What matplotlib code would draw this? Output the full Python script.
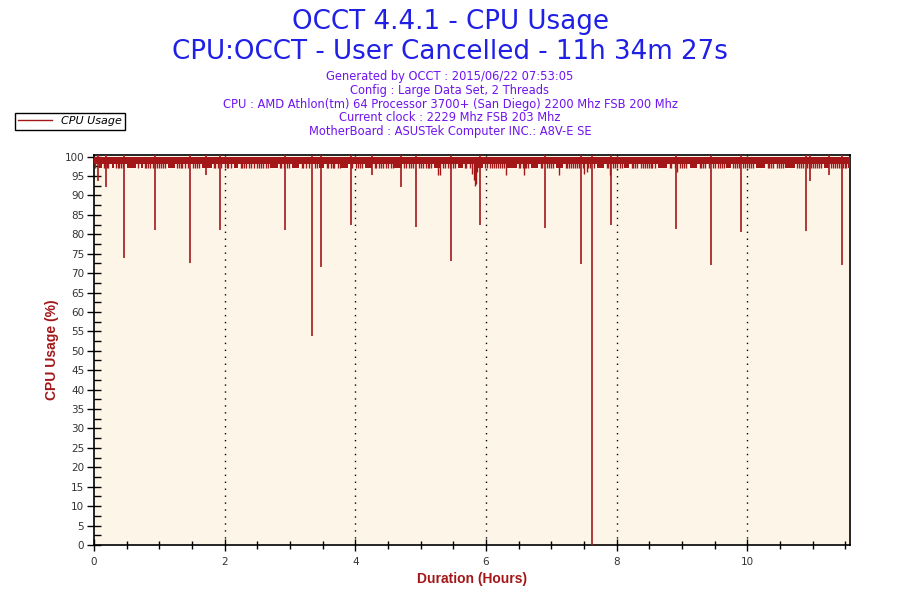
import matplotlib
matplotlib.use("Agg")
import matplotlib.pyplot as plt
from matplotlib.lines import Line2D
from matplotlib.ticker import MultipleLocator

# ---------------- data ----------------
title_lines = ["OCCT 4.4.1 - CPU Usage", "CPU:OCCT - User Cancelled - 11h 34m 27s"]
info_lines = [
    "Generated by OCCT : 2015/06/22 07:53:05",
    "Config : Large Data Set, 2 Threads",
    "CPU : AMD Athlon(tm) 64 Processor 3700+ (San Diego) 2200 Mhz FSB 200 Mhz",
    "Current clock : 2229 Mhz FSB 203 Mhz",
    "MotherBoard : ASUSTek Computer INC.: A8V-E SE",
]
series_name = "CPU Usage"
x_label = "Duration (Hours)"
y_label = "CPU Usage (%)"
x_ticks = [0, 2, 4, 6, 8, 10]
y_ticks = list(range(0, 101, 5))

duration_hours = 11.574          # 11h 34m 27s
cancel_hour = 7.63               # momentary drop to 0
band_high = 100.0                # usual fluctuation range of usage
band_low = 98.0

# deep single-sample drops (hour, usage %)
spike_hours = [0.054, 0.183, 0.459, 0.933, 1.468, 1.713, 1.927, 2.920, 3.333,
               3.471, 3.930, 4.251, 4.694, 4.924, 5.459, 5.917, 6.911, 7.462,
               7.630, 7.920, 8.914, 9.450, 9.908, 10.902, 10.963, 11.254, 11.453]
spike_values = [93.6, 92.1, 73.8, 81.2, 72.5, 95.2, 81.2, 81.2, 53.7,
                71.5, 82.4, 95.2, 92.1, 81.8, 73.1, 82.3, 81.6, 72.3,
                0.0, 82.3, 81.3, 72.0, 80.5, 80.8, 93.6, 95.2, 72.0]

# moderate drops
mid_hours = [5.27, 5.30, 5.79, 5.81, 5.83, 5.85, 5.87, 6.30, 6.59, 7.12, 7.50, 7.54, 7.90, 8.92]
mid_values = [95.3, 95.3, 95.5, 94.0, 92.4, 93.0, 96.0, 95.2, 95.2, 95.2, 95.6, 96.0, 95.2, 96.0]

# sustained shallow dips (start hour, end hour) down to ~97 %
dip_block_start = [0.08, 0.27, 0.51, 0.72, 1.13, 1.65, 2.14, 2.70, 3.03, 3.44, 3.78, 4.15,
                   4.60, 5.20, 5.57, 5.83, 6.32, 6.69, 7.07, 7.70, 8.11, 8.63, 9.12, 9.68,
                   10.13, 10.58, 11.17, 11.55]
dip_block_end = [0.13, 0.31, 0.64, 0.75, 1.24, 1.80, 2.21, 2.81, 3.14, 3.52, 3.89, 4.26,
                 4.71, 5.31, 5.65, 5.95, 6.47, 6.80, 7.18, 7.81, 8.19, 8.78, 9.23, 9.75,
                 10.28, 10.73, 11.25, 11.57]
dip_block_value = 97.0

# isolated shallow dips (hour) down to ~97 %
dip_hours = [0.02, 0.15, 0.17, 0.20, 0.22, 0.34, 0.36, 0.39, 0.41, 0.45, 0.68, 0.78,
             0.80, 0.83, 0.86, 0.90, 0.94, 0.97, 1.00, 1.02, 1.06, 1.09, 1.27, 1.30,
             1.33, 1.35, 1.40, 1.44, 1.52, 1.55, 1.57, 1.61, 1.83, 1.86, 1.90, 1.95,
             2.00, 2.03, 2.05, 2.09, 2.25, 2.27, 2.30, 2.33, 2.38, 2.41, 2.45, 2.49,
             2.52, 2.55, 2.58, 2.63, 2.66, 2.85, 2.87, 2.91, 2.95, 2.99, 3.18, 3.20,
             3.25, 3.29, 3.38, 3.41, 3.56, 3.58, 3.63, 3.66, 3.68, 3.73, 3.76, 3.93,
             3.95, 4.01, 4.04, 4.07, 4.11, 4.30, 4.32, 4.37, 4.40, 4.43, 4.47, 4.50,
             4.55, 4.58, 4.75, 4.77, 4.83, 4.86, 4.88, 4.97, 5.00, 5.03, 5.08, 5.11,
             5.13, 5.16, 5.35, 5.37, 5.42, 5.45, 5.50, 5.53, 5.68, 5.70, 5.75, 5.99,
             6.01, 6.06, 6.09, 6.12, 6.15, 6.18, 6.21, 6.24, 6.27, 6.50, 6.52, 6.57,
             6.60, 6.62, 6.65, 6.84, 6.86, 6.94, 6.97, 6.99, 7.03, 7.22, 7.24, 7.27,
             7.30, 7.33, 7.36, 7.39, 7.42, 7.48, 7.57, 7.60, 7.66, 7.85, 7.87, 7.95,
             7.98, 8.00, 8.05, 8.08, 8.23, 8.25, 8.28, 8.31, 8.37, 8.40, 8.43, 8.46,
             8.49, 8.52, 8.55, 8.59, 8.82, 8.84, 8.90, 8.97, 9.00, 9.03, 9.07, 9.28,
             9.30, 9.33, 9.36, 9.42, 9.48, 9.51, 9.55, 9.58, 9.61, 9.64, 9.79, 9.81,
             9.84, 9.87, 9.93, 9.96, 10.00, 10.03, 10.06, 10.09, 10.32, 10.34, 10.37,
             10.40, 10.46, 10.49, 10.52, 10.55, 10.77, 10.79, 10.82, 10.85, 10.91,
             10.95, 10.98, 11.01, 11.04, 11.07, 11.10, 11.13, 11.29, 11.31, 11.34,
             11.37, 11.40, 11.43, 11.46, 11.49, 11.52]

# ---------------- style ----------------
line_color = "#A31719"
bg_color = "#FDF6E8"
title_color = "#1F1FE6"
info_color = "#6F14EE"

fig = plt.figure(figsize=(9, 6), dpi=100)
fig.patch.set_facecolor("white")
ax = fig.add_axes([94 / 900, 55 / 600, 756 / 900, 390 / 600])
ax.set_facecolor(bg_color)

# band of fluctuation
ax.fill_between([0, cancel_hour], band_low, band_high, color=line_color, lw=0, zorder=3)
ax.fill_between([cancel_hour, duration_hours], band_low, band_high, color=line_color, lw=0, zorder=3)

# shallow dip blocks
for s, e in zip(dip_block_start, dip_block_end):
    ax.fill_between([s, e], dip_block_value, band_low + 0.1, color=line_color, lw=0, zorder=3)

ax.vlines(dip_hours, dip_block_value, band_high, color=line_color, lw=1.0, zorder=3)
ax.vlines(mid_hours, mid_values, band_high, color=line_color, lw=1.0, zorder=3)
ax.vlines(spike_hours, spike_values, band_high + 0.4, color=line_color, lw=1.2, zorder=3)

ax.set_xlim(0, duration_hours)
ax.set_ylim(0, 100.4)

ax.set_xticks(x_ticks)
ax.xaxis.set_minor_locator(MultipleLocator(0.5))
ax.set_yticks(y_ticks)
ax.yaxis.set_minor_locator(MultipleLocator(2.5))
ax.tick_params(axis="x", which="major", direction="inout", length=9, width=1,
               labelsize=7.5, labelcolor="#333333", pad=4)
ax.tick_params(axis="x", which="minor", direction="inout", length=6, width=1)
ax.tick_params(axis="y", which="major", direction="inout", length=10, width=1,
               labelsize=7.5, labelcolor="#333333", pad=2)
ax.tick_params(axis="y", which="minor", direction="in", length=5, width=1)

for xv in x_ticks[1:]:
    ax.axvline(xv, color="black", lw=1.0, ls=(0, (1, 4)), zorder=2)

for sp in ax.spines.values():
    sp.set_color("black")
    sp.set_linewidth(1.2)

ax.set_xlabel(x_label, color=line_color, fontsize=10, fontweight="bold",
              family="Liberation Sans", labelpad=4)
ax.set_ylabel(y_label, color=line_color, fontsize=10, fontweight="bold",
              family="Liberation Sans", labelpad=4)

# titles
fig.text(0.5, 1 - 22 / 600, title_lines[0], ha="center", va="center",
         fontsize=18.8, color=title_color, family="DejaVu Sans")
fig.text(0.5, 1 - 52 / 600, title_lines[1], ha="center", va="center",
         fontsize=18.8, color=title_color, family="DejaVu Sans")
for i, line in enumerate(info_lines):
    fig.text(0.5, 1 - (76.5 + i * 13.8) / 600, line, ha="center", va="center",
             fontsize=8.3, color=info_color, family="DejaVu Sans")

handle = Line2D([], [], color=line_color, lw=1)
leg = fig.legend([handle], [series_name], loc="upper left",
                 bbox_to_anchor=(15 / 900, 1 - 113 / 600), fancybox=False,
                 edgecolor="black", framealpha=1, handlelength=3,
                 borderpad=0.3, borderaxespad=0,
                 prop={"style": "italic", "size": 8, "family": "DejaVu Sans"})
leg.get_frame().set_linewidth(1.0)

fig.savefig("out.png", dpi=100, facecolor="white")
